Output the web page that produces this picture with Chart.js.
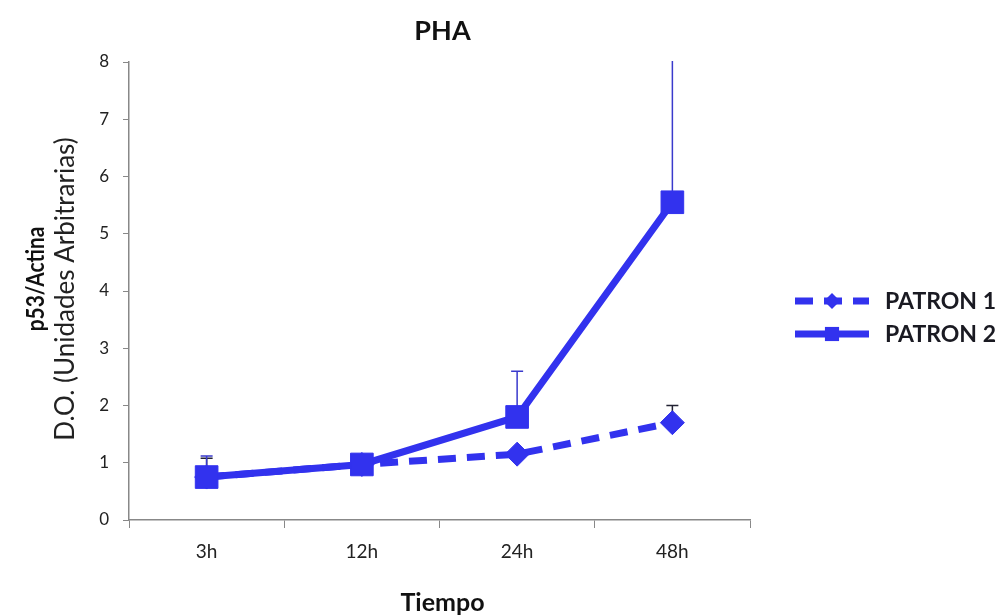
<!DOCTYPE html>
<html>
<head>
<meta charset="utf-8">
<script src="https://cdn.jsdelivr.net/npm/chart.js@4/dist/chart.umd.min.js"></script>
<style>
  html, body { margin: 0; padding: 0; background: #fff; }
  #wrap { width: 1002px; height: 616px; }
</style>
</head>
<body>
<div id="wrap"><canvas id="chartPHA"></canvas></div>
<script>
// --- Datos ---
const categories = ['3h', '12h', '24h', '48h'];
const patron1 = [0.75, 0.97, 1.15, 1.70];
const patron2 = [0.75, 0.97, 1.80, 5.55];
// barras de error (solo hacia arriba)
const errP1 = [0.33, 0, 0, 0.30];
const errP2 = [0.37, 0, 0.80, 2.60];

const BLUE = '#3232ee';
const FONT = 'Lato, "Open Sans", sans-serif';

const el = (id) => document.getElementById(id);

// --- Plugin: barras de error ---
const errorBars = {
    id: 'errorBars',
    beforeDatasetsDraw(chart) {
        const { ctx, chartArea, scales: { x, y } } = chart;
        ctx.save();
        ctx.beginPath();
        ctx.rect(chartArea.left, chartArea.top - 1, chartArea.width, chartArea.height + 2);
        ctx.clip();
        chart.data.datasets.forEach((ds) => {
            ds.errors.forEach((e, i) => {
                if (!e) return;
                const px = x.getPixelForValue(i);
                const y0 = y.getPixelForValue(ds.data[i]);
                const y1 = y.getPixelForValue(ds.data[i] + e);
                ctx.strokeStyle = ds.errColor;
                ctx.lineWidth = 1.5;
                ctx.beginPath();
                ctx.moveTo(px, y0);
                ctx.lineTo(px, y1);
                ctx.moveTo(px - 6, y1);
                ctx.lineTo(px + 6, y1);
                ctx.stroke();
            });
        });
        ctx.restore();
    }
};

// --- Plugin: títulos y leyenda ---
const labelsPlugin = {
    id: 'labelsPlugin',
    afterDraw(chart) {
        const { ctx, chartArea } = chart;
        const cx = (chartArea.left + chartArea.right) / 2;
        const cy = (chartArea.top + chartArea.bottom) / 2;
        ctx.save();
        ctx.fillStyle = '#111';
        ctx.textAlign = 'center';
        ctx.textBaseline = 'middle';
        ctx.font = 'bold 27px ' + FONT;
        ctx.fillText('PHA', cx + 3, 31);
        ctx.font = 'bold 25px ' + FONT;
        ctx.fillText('Tiempo', cx + 3, 603);

        // título eje Y (dos líneas, fuentes distintas)
        ctx.save();
        ctx.translate(36, cy - 12);
        ctx.rotate(-Math.PI / 2);
        ctx.scale(0.87, 1);
        ctx.font = 'bold 24px ' + FONT;
        ctx.fillText('p53/Actina', 0, 0);
        ctx.restore();
        ctx.save();
        ctx.translate(66, cy - 2);
        ctx.rotate(-Math.PI / 2);
        ctx.font = '26px ' + FONT;
        ctx.fillStyle = '#222';
        ctx.fillText('D.O. (Unidades Arbitrarias)', 0, 0);
        ctx.restore();

        // leyenda
        const rows = [301, 334];
        chart.data.datasets.forEach((ds, i) => {
            const ly = rows[i];
            ctx.strokeStyle = ds.borderColor;
            ctx.lineWidth = ds.borderWidth;
            ctx.setLineDash(ds.borderDash || []);
            ctx.beginPath();
            ctx.moveTo(795, ly);
            ctx.lineTo(869, ly);
            ctx.stroke();
            ctx.setLineDash([]);
            ctx.fillStyle = ds.backgroundColor;
            Chart.helpers.drawPoint(ctx, {
                pointStyle: ds.pointStyle, radius: ds.legendRadius, borderWidth: 0, rotation: 0
            }, 832, ly);
            ctx.fillStyle = '#1a1a22';
            ctx.font = 'bold 23px ' + FONT;
            ctx.textAlign = 'left';
            ctx.fillText(ds.label, 885, ly + 1);
        });
        ctx.restore();
    }
};

new Chart(el('chartPHA').getContext('2d'), {
    type: 'line',
    data: {
        labels: categories,
        datasets: [
            {
                label: 'PATRON 1',
                data: patron1,
                errors: errP1,
                errColor: '#222233',
                borderColor: BLUE,
                backgroundColor: BLUE,
                borderWidth: 7,
                borderDash: [18, 11],
                pointStyle: 'rectRot',
                pointRadius: 12,
                pointBorderWidth: 1,
                legendRadius: 8,
                order: 1,
            },
            {
                label: 'PATRON 2',
                data: patron2,
                errors: errP2,
                errColor: '#3a3acc',
                borderColor: BLUE,
                backgroundColor: BLUE,
                borderWidth: 7,
                pointStyle: 'rect',
                pointRadius: 16,
                pointBorderWidth: 1,
                legendRadius: 10,
                order: 0,
            }
        ]
    },
    options: {
        responsive: true,
        maintainAspectRatio: false,
        animation: false,
        layout: { padding: { top: 62, right: 252, left: 0, bottom: 0 } },
        plugins: {
            legend: { display: false },
            title: { display: false },
            tooltip: { enabled: false }
        },
        scales: {
            x: {
                offset: true,
                grid: { drawOnChartArea: false, offset: true, tickLength: 8, color: '#888' },
                border: { color: '#888', width: 1.5 },
                ticks: { color: '#222', font: { family: FONT, size: 19 }, padding: 12 },
                afterFit: (s) => { s.height = 96; }
            },
            y: {
                min: 0, max: 8,
                grid: { drawOnChartArea: false, tickLength: 6, color: '#888' },
                border: { color: '#888', width: 1.5 },
                ticks: { stepSize: 1, color: '#222', font: { family: FONT, size: 17 }, padding: 14 },
                afterFit: (s) => { s.width = 129; }
            }
        }
    },
    plugins: [errorBars, labelsPlugin]
});
</script>
</body>
</html>
